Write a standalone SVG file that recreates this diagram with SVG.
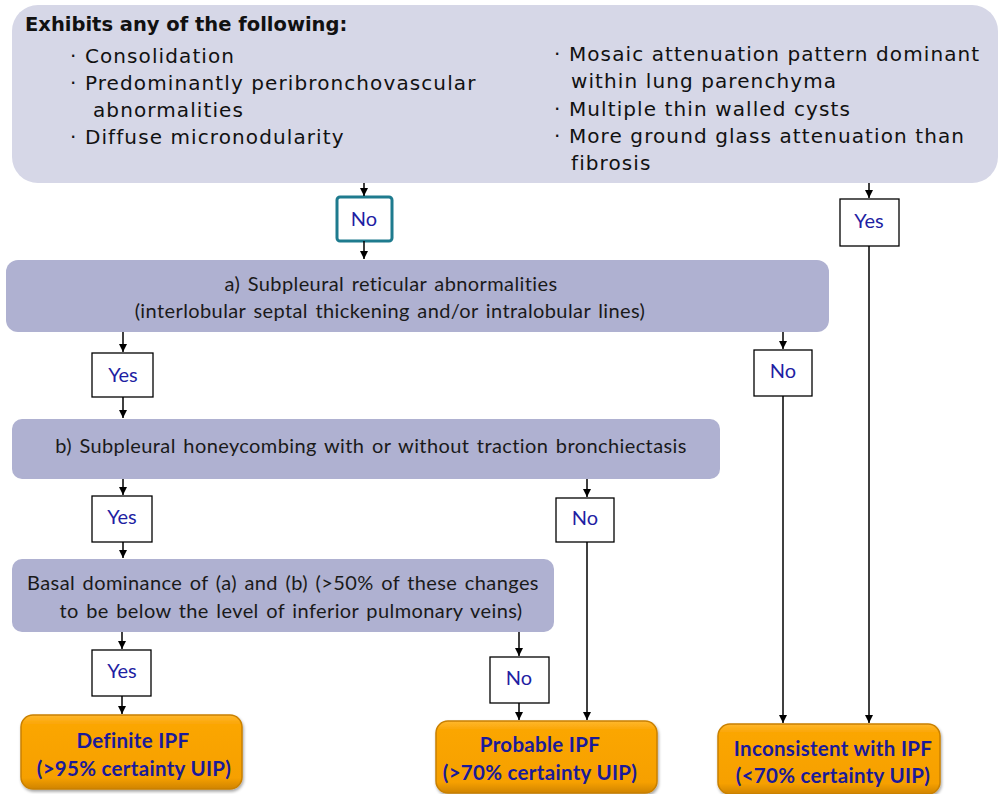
<svg xmlns="http://www.w3.org/2000/svg" width="998" height="794" viewBox="0 0 998 794">
<defs>
<marker id="arr" viewBox="0 0 10 10" refX="10" refY="5" markerWidth="8" markerHeight="8" markerUnits="userSpaceOnUse" orient="auto">
<path d="M0,0 L10,5 L0,10 z" fill="#000"/>
</marker>
<linearGradient id="og" x1="0" y1="0" x2="0" y2="1">
<stop offset="0" stop-color="#ffb830"/>
<stop offset="0.12" stop-color="#fba605"/>
<stop offset="0.85" stop-color="#f6a000"/>
<stop offset="1" stop-color="#d08400"/>
</linearGradient>
<filter id="sh" x="-5%" y="-5%" width="110%" height="115%">
<feDropShadow dx="1" dy="2" stdDeviation="1.5" flood-color="#000" flood-opacity="0.35"/>
</filter>
</defs>
<style>
.big{fill:#d6d7e7}
.dec{fill:#afb1d1}
.lbl{fill:#fff;stroke:#000;stroke-width:1.3}
.lt{font-family:Lato,"Liberation Sans",sans-serif;font-size:20px;fill:#1f1fa3;text-anchor:middle}
.bt{font-family:Lato,"Liberation Sans",sans-serif;font-size:20px;fill:#1a1a1a;text-anchor:middle;letter-spacing:0.4px;word-spacing:2px}
.dj{font-family:"DejaVu Sans",Verdana,sans-serif;font-size:20px;fill:#111;letter-spacing:1.1px}
.ttl{font-family:"DejaVu Sans",Verdana,sans-serif;font-size:19.5px;font-weight:bold;fill:#111}
.out{fill:url(#og);stroke:#c98000;stroke-width:1.5;filter:url(#sh)}
.ot{font-family:Lato,"Liberation Sans",sans-serif;font-size:20.5px;font-weight:bold;fill:#1a1a9a;text-anchor:middle;letter-spacing:0.3px}
.c{stroke:#000;stroke-width:1.5;fill:none}
</style>

<g id="top">
<rect class="big" x="12" y="5" width="986" height="178" rx="26"/>
<text class="ttl" x="25" y="31">Exhibits any of the following:</text>
<text class="dj" x="70" y="63">· Consolidation</text>
<text class="dj" x="70" y="90">· Predominantly peribronchovascular</text>
<text class="dj" x="93" y="117">abnormalities</text>
<text class="dj" x="70" y="144">· Diffuse micronodularity</text>
<text class="dj" x="554" y="61">· Mosaic attenuation pattern dominant</text>
<text class="dj" x="571" y="88">within lung parenchyma</text>
<text class="dj" x="554" y="116">· Multiple thin walled cysts</text>
<text class="dj" x="554" y="143">· More ground glass attenuation than</text>
<text class="dj" x="571" y="170">fibrosis</text>
</g>

<g id="no1">
<rect x="337" y="197" width="55" height="44" rx="3" fill="#fff" stroke="#1e7b8e" stroke-width="3"/>
<text class="lt" x="364" y="226">No</text>
</g>
<g id="yes1">
<rect class="lbl" x="840" y="199" width="59" height="47"/>
<text class="lt" x="869" y="228">Yes</text>
</g>

<g id="boxA">
<rect class="dec" x="6" y="260" width="823" height="72" rx="12"/>
<text class="bt" x="391" y="291">a) Subpleural reticular abnormalities</text>
<text class="bt" x="390" y="318">(interlobular septal thickening and/or intralobular lines)</text>
</g>

<g id="yes2">
<rect class="lbl" x="92" y="353" width="61" height="44"/>
<text class="lt" x="123" y="382">Yes</text>
</g>
<g id="no2">
<rect class="lbl" x="754" y="350" width="58" height="46"/>
<text class="lt" x="783" y="378">No</text>
</g>

<g id="boxB">
<rect class="dec" x="12" y="419" width="708" height="60" rx="10"/>
<text class="bt" x="371" y="453">b) Subpleural honeycombing with or without traction bronchiectasis</text>
</g>

<g id="yes3">
<rect class="lbl" x="92" y="496" width="60" height="46"/>
<text class="lt" x="122" y="524">Yes</text>
</g>
<g id="no3">
<rect class="lbl" x="556" y="498" width="58" height="44"/>
<text class="lt" x="585" y="525">No</text>
</g>

<g id="boxC">
<rect class="dec" x="12" y="559" width="542" height="73" rx="10"/>
<text class="bt" x="283" y="590">Basal dominance of (a) and (b) (&gt;50% of these changes</text>
<text class="bt" x="291" y="618">to be below the level of inferior pulmonary veins)</text>
</g>

<g id="yes4">
<rect class="lbl" x="92" y="650" width="59" height="46"/>
<text class="lt" x="122" y="678">Yes</text>
</g>
<g id="no4">
<rect class="lbl" x="490" y="657" width="59" height="46"/>
<text class="lt" x="519" y="685">No</text>
</g>

<g id="definite">
<rect class="out" x="21" y="715" width="221" height="74" rx="12"/>
<text class="ot" x="133" y="748">Definite IPF</text>
<text class="ot" x="134" y="776">(&gt;95% certainty UIP)</text>
</g>
<g id="probable">
<rect class="out" x="436" y="721" width="221" height="72" rx="12"/>
<text class="ot" x="540" y="752">Probable IPF</text>
<text class="ot" x="540" y="780">(&gt;70% certainty UIP)</text>
</g>
<g id="inconsistent">
<rect class="out" x="718" y="724" width="222" height="70" rx="12"/>
<text class="ot" x="833" y="756">Inconsistent with IPF</text>
<text class="ot" x="833" y="783">(&lt;70% certainty UIP)</text>
</g>

<g id="connectors">
<line class="c" x1="364" y1="183" x2="364" y2="196" marker-end="url(#arr)"/>
<line class="c" x1="364" y1="241" x2="364" y2="259" marker-end="url(#arr)"/>
<line class="c" x1="869" y1="183" x2="869" y2="198" marker-end="url(#arr)"/>
<line class="c" x1="869" y1="246" x2="869" y2="723" marker-end="url(#arr)"/>
<line class="c" x1="123" y1="332" x2="123" y2="352" marker-end="url(#arr)"/>
<line class="c" x1="123" y1="397" x2="123" y2="418" marker-end="url(#arr)"/>
<line class="c" x1="783" y1="332" x2="783" y2="349" marker-end="url(#arr)"/>
<line class="c" x1="783" y1="396" x2="783" y2="723" marker-end="url(#arr)"/>
<line class="c" x1="123" y1="479" x2="123" y2="495" marker-end="url(#arr)"/>
<line class="c" x1="123" y1="542" x2="123" y2="558" marker-end="url(#arr)"/>
<line class="c" x1="587" y1="479" x2="587" y2="497" marker-end="url(#arr)"/>
<line class="c" x1="587" y1="542" x2="587" y2="720" marker-end="url(#arr)"/>
<line class="c" x1="122" y1="632" x2="122" y2="649" marker-end="url(#arr)"/>
<line class="c" x1="122" y1="696" x2="122" y2="714" marker-end="url(#arr)"/>
<line class="c" x1="519" y1="632" x2="519" y2="656" marker-end="url(#arr)"/>
<line class="c" x1="519" y1="703" x2="519" y2="720" marker-end="url(#arr)"/>
</g>
</svg>
